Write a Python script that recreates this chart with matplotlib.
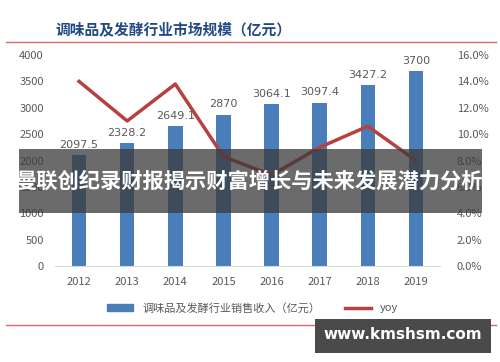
import matplotlib

matplotlib.use("Agg")
import matplotlib.pyplot as plt
from matplotlib.lines import Line2D
from matplotlib.patches import Rectangle
from matplotlib.ticker import FuncFormatter

plt.rcParams["font.family"] = ["Noto Sans CJK SC", "DejaVu Sans"]

YEARS = ["2012", "2013", "2014", "2015", "2016", "2017", "2018", "2019"]
REVENUE = [2097.5, 2328.2, 2649.1, 2870, 3064.1, 3097.4, 3427.2, 3700]
REVENUE_LABELS = ["2097.5", "2328.2", "2649.1", "2870", "3064.1", "3097.4", "3427.2", "3700"]
YOY = [14.0, 11.0, 13.8, 8.3, 6.9, 9.0, 10.6, 8.0]

TITLE = "调味品及发酵行业市场规模（亿元）"
BAR_NAME = "调味品及发酵行业销售收入（亿元）"
LINE_NAME = "yoy"
BANNER = "曼联创纪录财报揭示财富增长与未来发展潜力分析"
WATERMARK = "www.kmshsm.com"

BLUE = "#4a7ebb"
RED = "#b8403f"
GRAY = "#595959"

fig = plt.figure(figsize=(5.0, 3.62), dpi=100)
ax = fig.add_axes([0.11, 0.265, 0.77, 0.583])
x = list(range(len(YEARS)))

ax.bar(x, REVENUE, width=0.3, color=BLUE, zorder=2)
for xi, v, lab in zip(x, REVENUE, REVENUE_LABELS):
    ax.text(xi, v + 100, lab, ha="center", va="bottom", fontsize=8, color=GRAY,
            family="DejaVu Sans")
ax.set_ylim(0, 4000)
ax.set_xlim(-0.5, len(YEARS) - 0.5)
ax.set_yticks(range(0, 4001, 500))
ax.set_xticks(x)
ax.set_xticklabels(YEARS)
for s in ["top", "left", "right"]:
    ax.spines[s].set_visible(False)
ax.spines["bottom"].set_color("#d9d9d9")
ax.tick_params(length=0, labelsize=8, colors=GRAY, pad=8)

ax2 = ax.twinx()
ax2.plot(x, YOY, color=RED, linewidth=2.5, zorder=3)
ax2.set_ylim(0, 16)
ax2.set_yticks(range(0, 17, 2))
ax2.yaxis.set_major_formatter(FuncFormatter(lambda v, p: f"{v:.1f}%"))
for s in ["top", "left", "right", "bottom"]:
    ax2.spines[s].set_visible(False)
ax2.tick_params(length=0, labelsize=8, colors=GRAY, pad=12)

# title and red rules
fig.text(0.11, 0.92, TITLE, fontsize=10.6, fontweight="bold", color="#234a84",
         va="center", ha="left")
fig.add_artist(Line2D([0.012, 0.992], [0.884, 0.884], color="#e06666", lw=1))
fig.add_artist(Line2D([0.012, 0.992], [0.102, 0.102], color="#e06666", lw=1))

handles = [Rectangle((0, 0), 1, 1, color=BLUE), Line2D([], [], color=RED, lw=2.5)]
fig.legend(handles, [BAR_NAME, LINE_NAME], loc="center", bbox_to_anchor=(0.505, 0.149),
           ncol=2, frameon=False, fontsize=8, labelcolor=GRAY, handlelength=2.4,
           handleheight=0.6, columnspacing=2.2)

# overlay banner
fig.add_artist(Rectangle((0.038, 0.412), 0.926, 0.177, transform=fig.transFigure,
                         facecolor="#3a3a3a", alpha=0.75, edgecolor="none", zorder=10))
fig.text(0.5, 0.5, BANNER, fontsize=15.3, fontweight="bold", color="white",
         ha="center", va="center", zorder=11)

# watermark
fig.add_artist(Rectangle((0.63, 0.025), 0.352, 0.094, transform=fig.transFigure,
                         facecolor="#4a4a4a", edgecolor="none", zorder=10))
fig.text(0.806, 0.075, WATERMARK, fontsize=11, fontweight="bold", color="white",
         ha="center", va="center", family="DejaVu Sans", zorder=11)

fig.savefig("out.png", dpi=100)
